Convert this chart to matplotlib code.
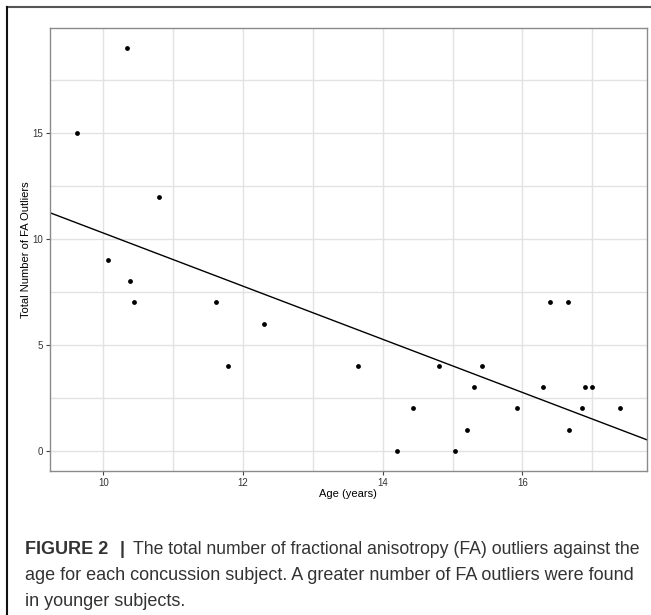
import numpy as np
import matplotlib
matplotlib.use("Agg")
import matplotlib.pyplot as plt
from matplotlib.lines import Line2D

# データ (年齢, FA外れ値の総数)
age = [9.62, 10.06, 10.335, 10.38, 10.435, 10.80, 11.61, 11.79, 12.30, 13.65,
       14.20, 14.43, 14.80, 15.03, 15.21, 15.31, 15.42, 15.92, 16.30, 16.40,
       16.65, 16.67, 16.86, 16.90, 16.99, 17.40]
outliers = [15, 9, 19, 8, 7, 12, 7, 4, 6, 4,
            0, 2, 4, 0, 1, 3, 4, 2, 3, 7,
            7, 1, 2, 3, 3, 2]
x_ticks = [10, 12, 14, 16]
y_ticks = [0, 5, 10, 15]

plt.rcParams['font.family'] = ['Liberation Sans', 'DejaVu Sans']

fig = plt.figure(figsize=(6.51, 6.15), dpi=100)
ax = fig.add_axes([50 / 651, 1 - 471 / 615, 596.7 / 651, 443 / 615])

# 散布図
ax.scatter(age, outliers, s=12, color='black', zorder=3, linewidths=0)

# 回帰直線 (lm)
xlim = (9.236, 17.78)
slope, intercept = np.polyfit(age, outliers, 1)
xs = np.array(xlim)
ax.plot(xs, slope * xs + intercept, color='black', linewidth=1.0, zorder=2)

ax.set_xlim(*xlim)
ax.set_ylim(-0.95, 19.95)
ax.set_xticks(x_ticks)
ax.set_yticks(y_ticks)
ax.set_xticks([11, 13, 15, 17], minor=True)
ax.set_yticks([2.5, 7.5, 12.5, 17.5], minor=True)
ax.grid(True, which='both', color='#e2e2e2', linewidth=1.0, zorder=0)
ax.set_axisbelow(True)
ax.tick_params(which='major', length=3, width=0.8, color='#444444',
               labelsize=7, labelcolor='#333333', pad=2)
ax.tick_params(which='minor', length=0)
for s in ax.spines.values():
    s.set_color('#8a8a8a')
    s.set_linewidth(1.0)

ax.set_xlabel('Age (years)', fontsize=8, labelpad=1)
ax.set_ylabel('Total Number of FA Outliers', fontsize=8, labelpad=1)

# 外枠 (上と左)
fig.add_artist(Line2D([7 / 651, 1.0], [1 - 7 / 615, 1 - 7 / 615],
                      transform=fig.transFigure, color='#555555', linewidth=1.5))
fig.add_artist(Line2D([7 / 651, 7 / 651], [1 - 7 / 615, 0.0],
                      transform=fig.transFigure, color='#111111', linewidth=1.5))

# キャプション
cap_x = 25 / 651
cap_col = '#333333'
fig.text(cap_x, 1 - 554 / 615, 'FIGURE 2', fontsize=13, fontweight='bold',
         color=cap_col, va='baseline')
fig.text(120 / 651, 1 - 554 / 615, '|', fontsize=13, fontweight='bold',
         color=cap_col, va='baseline')
fig.text(133 / 651, 1 - 554 / 615,
         'The total number of fractional anisotropy (FA) outliers against the',
         fontsize=12.7, color=cap_col, va='baseline')
fig.text(cap_x, 1 - 580 / 615,
         'age for each concussion subject. A greater number of FA outliers were found',
         fontsize=13, color=cap_col, va='baseline')
fig.text(cap_x, 1 - 606 / 615, 'in younger subjects.',
         fontsize=13, color=cap_col, va='baseline')

fig.savefig('out.png', dpi=100)
